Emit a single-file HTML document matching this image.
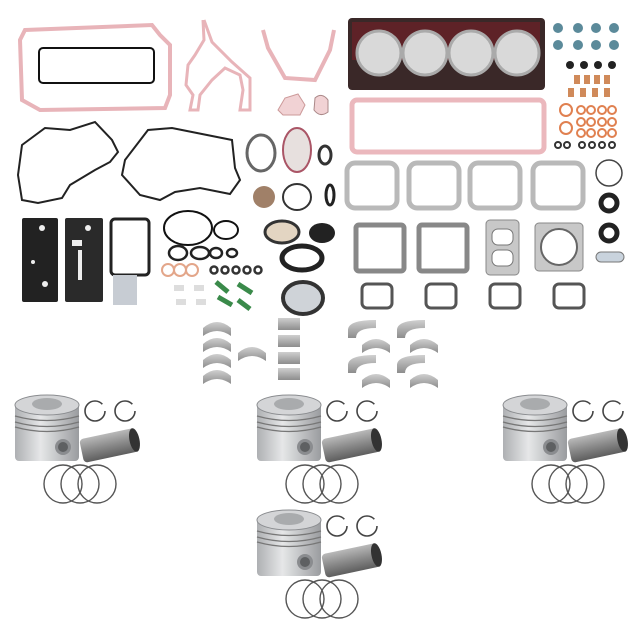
<!DOCTYPE html>
<html><head><style>html,body{margin:0;padding:0;background:#fff;width:640px;height:640px;overflow:hidden}</style></head>
<body>
<svg width="640" height="640" viewBox="0 0 640 640" xmlns="http://www.w3.org/2000/svg">
<defs>
<linearGradient id="pg" x1="0" x2="1"><stop offset="0" stop-color="#aeb0b3"/><stop offset=".4" stop-color="#e6e7e8"/><stop offset="1" stop-color="#9a9c9f"/></linearGradient>
<linearGradient id="pin" x1="0" y1="0" x2="0" y2="1"><stop offset="0" stop-color="#b9b9b9"/><stop offset=".5" stop-color="#8a8a8a"/><stop offset="1" stop-color="#5e5e5e"/></linearGradient>
<linearGradient id="brg" x1="0" y1="0" x2="0" y2="1"><stop offset="0" stop-color="#cfcfcf"/><stop offset="1" stop-color="#8d8d8d"/></linearGradient>
<g id="piston">
 <rect x="0" y="8" width="64" height="58" rx="4" fill="url(#pg)"/>
 <ellipse cx="32" cy="10" rx="32" ry="10" fill="#d4d5d7" stroke="#8b8d90"/>
 <ellipse cx="32" cy="9" rx="15" ry="6" fill="#a9abad"/>
 <path d="M0 21 Q32 30 64 21 M0 27 Q32 36 64 27 M0 32 Q32 41 64 32" stroke="#777" stroke-width="1.3" fill="none"/>
 <circle cx="48" cy="52" r="8" fill="#8a8c8f"/><circle cx="48" cy="52" r="5" fill="#5e6062"/>
 <circle cx="80" cy="16" r="10" fill="none" stroke="#444" stroke-width="1.6" stroke-dasharray="55 8"/>
 <circle cx="110" cy="16" r="10" fill="none" stroke="#444" stroke-width="1.6" stroke-dasharray="55 8"/>
 <g transform="rotate(-12 96 50)"><rect x="66" y="38" width="56" height="24" rx="4" fill="url(#pin)"/><ellipse cx="120" cy="50" rx="5" ry="12" fill="#333"/></g>
 <circle cx="48" cy="89" r="19" fill="none" stroke="#555" stroke-width="1.4"/>
 <circle cx="65" cy="89" r="19" fill="none" stroke="#555" stroke-width="1.4"/>
 <circle cx="82" cy="89" r="19" fill="none" stroke="#555" stroke-width="1.4"/>
</g>
<g id="brgA"><path d="M0 10 Q0 0 28 0 L28 8 Q8 8 8 18 L0 18 Z" fill="url(#brg)"/></g>
<g id="brgB"><path d="M0 12 Q14 0 28 12 L28 20 Q14 10 0 20 Z" fill="url(#brg)"/></g>
</defs>

<path d="M25 30 L152 25 L160 35 L170 45 L170 95 L165 108 L40 110 L22 100 L20 40 Z" fill="none" stroke="#e8b4b9" stroke-width="4"/>
<rect x="39" y="48" width="115" height="35" rx="4" fill="none" stroke="#111" stroke-width="2"/>
<path d="M203 20 L204 40 L195 55 L188 65 L186 85 L193 95 L190 110 L198 110 L200 95 L212 80 L225 68 L240 75 L243 90 L240 110 L250 110 L250 78 L232 62 L212 42 L204 20" fill="none" stroke="#e8b4b9" stroke-width="3"/>
<path d="M263 30 L268 48 L285 78 L315 80 L330 50 L334 30" fill="none" stroke="#e8b4b9" stroke-width="4"/>
<path d="M278 110 L285 98 L298 94 L305 105 L300 115 L283 115 Z" fill="#f1d2d4" stroke="#c99" />
<path d="M315 98 Q322 92 328 100 L328 112 Q320 118 314 110 Z" fill="#f1d2d4" stroke="#a88"/>

<rect x="348" y="18" width="197" height="72" rx="4" fill="#3a2828"/>
<path d="M352 22 L540 22 L540 60 L352 60Z" fill="#6e2026" opacity=".7"/>
<g fill="#d9d9d9" stroke="#aaa" stroke-width="3"><circle cx="379" cy="53" r="22"/><circle cx="425" cy="53" r="22"/><circle cx="471" cy="53" r="22"/><circle cx="517" cy="53" r="22"/></g>
<rect x="352" y="100" width="192" height="52" rx="5" fill="none" stroke="#ebb8bd" stroke-width="5"/>

<g fill="#5b8a9a"><circle cx="558" cy="28" r="5"/><circle cx="578" cy="28" r="5"/><circle cx="596" cy="28" r="5"/><circle cx="614" cy="28" r="5"/><circle cx="558" cy="45" r="5"/><circle cx="578" cy="45" r="5"/><circle cx="596" cy="45" r="5"/><circle cx="614" cy="45" r="5"/></g>
<g fill="#222"><circle cx="570" cy="65" r="4"/><circle cx="584" cy="65" r="4"/><circle cx="598" cy="65" r="4"/><circle cx="612" cy="65" r="4"/></g>
<g fill="#d08a5a"><rect x="574" y="75" width="6" height="9"/><rect x="584" y="75" width="6" height="9"/><rect x="594" y="75" width="6" height="9"/><rect x="604" y="75" width="6" height="9"/><rect x="568" y="88" width="6" height="9"/><rect x="580" y="88" width="6" height="9"/><rect x="592" y="88" width="6" height="9"/><rect x="604" y="88" width="6" height="9"/></g>
<g fill="none" stroke="#e08050" stroke-width="2"><circle cx="566" cy="110" r="6"/><circle cx="566" cy="128" r="6"/><circle cx="581" cy="110" r="4"/><circle cx="591" cy="110" r="4"/><circle cx="602" cy="110" r="4"/><circle cx="612" cy="110" r="4"/><circle cx="581" cy="122" r="4"/><circle cx="591" cy="122" r="4"/><circle cx="602" cy="122" r="4"/><circle cx="612" cy="122" r="4"/><circle cx="581" cy="133" r="4"/><circle cx="591" cy="133" r="4"/><circle cx="602" cy="133" r="4"/><circle cx="612" cy="133" r="4"/></g>
<g fill="none" stroke="#333" stroke-width="2"><circle cx="558" cy="145" r="3"/><circle cx="567" cy="145" r="3"/><circle cx="582" cy="145" r="3"/><circle cx="592" cy="145" r="3"/><circle cx="602" cy="145" r="3"/><circle cx="612" cy="145" r="3"/></g>
<circle cx="609" cy="173" r="13" fill="none" stroke="#444" stroke-width="1.5"/>
<circle cx="609" cy="203" r="8" fill="none" stroke="#222" stroke-width="5"/>
<circle cx="609" cy="233" r="8" fill="none" stroke="#222" stroke-width="5"/>
<rect x="596" y="252" width="28" height="10" rx="5" fill="#c9d3dd" stroke="#777"/>

<g fill="none" stroke="#b9b9b9" stroke-width="5"><rect x="347" y="163" width="50" height="45" rx="8"/><rect x="409" y="163" width="50" height="45" rx="8"/><rect x="470" y="163" width="50" height="45" rx="8"/><rect x="533" y="163" width="50" height="45" rx="8"/></g>
<g fill="none" stroke="#888" stroke-width="5"><rect x="356" y="225" width="48" height="46" rx="3"/><rect x="419" y="225" width="48" height="46" rx="3"/></g>
<rect x="486" y="220" width="33" height="55" rx="4" fill="#c8c8c8" stroke="#888"/>
<rect x="492" y="229" width="21" height="16" rx="6" fill="#fff" stroke="#777"/><rect x="492" y="250" width="21" height="16" rx="6" fill="#fff" stroke="#777"/>
<rect x="535" y="223" width="48" height="48" rx="4" fill="#c8c8c8" stroke="#888"/><circle cx="559" cy="247" r="18" fill="#fff" stroke="#666" stroke-width="2"/>
<g fill="#fff" stroke="#555" stroke-width="3"><rect x="362" y="284" width="30" height="24" rx="5"/><rect x="426" y="284" width="30" height="24" rx="5"/><rect x="490" y="284" width="30" height="24" rx="5"/><rect x="554" y="284" width="30" height="24" rx="5"/></g>

<path d="M22 145 L45 128 L70 130 L95 122 L112 140 L118 152 L110 162 L95 170 L70 185 L62 198 L38 203 L22 200 L18 175 Z" fill="none" stroke="#222" stroke-width="2"/>
<path d="M125 160 L148 130 L172 128 L232 140 L235 168 L240 180 L230 194 L200 188 L175 192 L160 200 L140 195 L122 175 Z" fill="none" stroke="#222" stroke-width="2"/>
<ellipse cx="261" cy="153" rx="14" ry="18" fill="none" stroke="#666" stroke-width="3"/>
<ellipse cx="297" cy="150" rx="14" ry="22" fill="#e7e0de" stroke="#a56" stroke-width="2"/>
<ellipse cx="325" cy="155" rx="6" ry="9" fill="none" stroke="#333" stroke-width="3"/>
<circle cx="264" cy="197" r="11" fill="#a08068"/>
<ellipse cx="297" cy="197" rx="14" ry="13" fill="none" stroke="#333" stroke-width="2"/>
<ellipse cx="330" cy="195" rx="4" ry="10" fill="none" stroke="#222" stroke-width="3"/>
<rect x="22" y="218" width="36" height="84" rx="2" fill="#222"/>
<rect x="65" y="218" width="38" height="84" rx="2" fill="#2a2a2a"/>
<g fill="#eee"><circle cx="42" cy="228" r="3"/><circle cx="33" cy="262" r="2"/><circle cx="45" cy="284" r="3"/><circle cx="88" cy="228" r="3"/><rect x="72" y="240" width="10" height="6"/><rect x="78" y="250" width="4" height="30"/></g>
<rect x="111" y="219" width="38" height="56" rx="4" fill="none" stroke="#222" stroke-width="3"/>
<rect x="113" y="275" width="24" height="30" fill="#c7ccd3"/>
<ellipse cx="188" cy="228" rx="24" ry="17" fill="none" stroke="#111" stroke-width="2"/>
<ellipse cx="226" cy="230" rx="12" ry="9" fill="none" stroke="#111" stroke-width="2"/>
<g fill="none" stroke="#222" stroke-width="2.5"><ellipse cx="178" cy="253" rx="9" ry="7"/><ellipse cx="200" cy="253" rx="9" ry="6"/><ellipse cx="216" cy="253" rx="6" ry="5"/><ellipse cx="232" cy="253" rx="5" ry="4"/></g>
<g fill="none" stroke="#e3a68a" stroke-width="2"><circle cx="168" cy="270" r="6"/><circle cx="180" cy="270" r="6"/><circle cx="192" cy="270" r="6"/></g>
<g fill="none" stroke="#333" stroke-width="2.5"><circle cx="214" cy="270" r="3.5"/><circle cx="225" cy="270" r="3.5"/><circle cx="236" cy="270" r="3.5"/><circle cx="247" cy="270" r="3.5"/><circle cx="258" cy="270" r="3.5"/></g>
<g fill="#ddd"><rect x="174" y="285" width="10" height="6"/><rect x="194" y="285" width="10" height="6"/><rect x="176" y="299" width="10" height="6"/><rect x="196" y="299" width="10" height="6"/></g>
<g stroke="#3a8a4a" stroke-width="5"><line x1="216" y1="282" x2="228" y2="292"/><line x1="238" y1="284" x2="252" y2="293"/><line x1="218" y1="297" x2="232" y2="305"/><line x1="238" y1="300" x2="250" y2="309"/></g>
<ellipse cx="282" cy="232" rx="17" ry="11" fill="#e3d5c2" stroke="#333" stroke-width="3"/>
<ellipse cx="322" cy="233" rx="13" ry="10" fill="#222"/>
<ellipse cx="302" cy="258" rx="20" ry="12" fill="none" stroke="#222" stroke-width="5"/>
<ellipse cx="303" cy="298" rx="20" ry="16" fill="#cfd3d8" stroke="#333" stroke-width="4"/>
<use href="#brgB" x="203" y="316"/><use href="#brgB" x="203" y="332"/><use href="#brgB" x="203" y="348"/><use href="#brgB" x="203" y="364"/>
<use href="#brgB" x="238" y="341"/>
<g fill="url(#brg)"><rect x="278" y="318" width="22" height="12"/><rect x="278" y="335" width="22" height="12"/><rect x="278" y="352" width="22" height="12"/><rect x="278" y="368" width="22" height="12"/></g>
<use href="#brgA" x="348" y="320"/><use href="#brgA" x="397" y="320"/><use href="#brgB" x="362" y="333"/><use href="#brgB" x="410" y="333"/>
<use href="#brgA" x="348" y="355"/><use href="#brgA" x="397" y="355"/><use href="#brgB" x="362" y="368"/><use href="#brgB" x="410" y="368"/>

<use href="#piston" x="15" y="395"/>
<use href="#piston" x="257" y="395"/>
<use href="#piston" x="503" y="395"/>
<use href="#piston" x="257" y="510"/>
</svg>
</body></html>
